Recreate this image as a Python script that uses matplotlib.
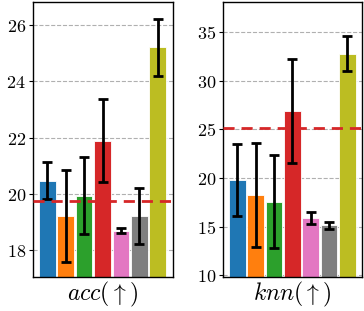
import matplotlib
matplotlib.use("Agg")
import matplotlib.pyplot as plt
import numpy as np

plt.rcParams['mathtext.fontset'] = 'cm'
plt.rcParams['font.family'] = 'DejaVu Serif'

colors = ['#1f77b4', '#ff7f0e', '#2ca02c', '#d62728', '#e377c2', '#7f7f7f', '#bcbd22']

acc_vals = [20.47, 19.22, 19.93, 21.89, 18.70, 19.22, 25.21]
acc_errs = [0.66, 1.62, 1.37, 1.48, 0.10, 1.00, 1.01]
acc_base = 19.74

knn_vals = [19.8, 18.26, 17.57, 26.9, 15.9, 15.14, 32.8]
knn_errs = [3.75, 5.3, 4.8, 5.32, 0.65, 0.34, 1.81]
knn_base = 25.1

labels = [r'$acc(\uparrow)$', r'$knn(\uparrow)$']
yticks = [[18, 20, 22, 24, 26], [10, 15, 20, 25, 30, 35]]
ylims = [(17.05, 26.82), (9.83, 38.1)]

fig = plt.figure(figsize=(3.64, 3.11), dpi=100)
ax1 = fig.add_axes([33/364, 1 - 277/311, 139.5/364, 275/311])
ax2 = fig.add_axes([223/364, 1 - 277/311, 139/364, 275/311])

for ax, vals, errs, base, lab, yt, yl in zip(
        [ax1, ax2], [acc_vals, knn_vals], [acc_errs, knn_errs],
        [acc_base, knn_base], labels, yticks, ylims):
    x = np.arange(len(vals))
    ax.bar(x, vals, width=0.9, color=colors, edgecolor='white', linewidth=0.6, zorder=2)
    ax.errorbar(x, vals, yerr=errs, fmt='none', ecolor='black', elinewidth=2,
                capsize=3.5, capthick=2, zorder=3)
    ax.axhline(base, color='#d62728', linestyle=(0, (4, 2.5)), linewidth=2, zorder=4)
    ax.set_xlim(-0.78, 6.8)
    ax.set_ylim(*yl)
    ax.set_yticks(yt)
    ax.set_yticklabels([f'${v}$' for v in yt], fontsize=13)
    ax.set_xticks([])
    ax.yaxis.grid(True, linestyle='--', color='#b0b0b0', linewidth=0.8, zorder=0)
    ax.set_axisbelow(True)
    ax.tick_params(axis='y', length=3, width=0.8, pad=2)
    ax.set_xlabel(lab, fontsize=17, labelpad=2)
    for s in ax.spines.values():
        s.set_linewidth(1.0)

fig.savefig('out.png', dpi=100)
